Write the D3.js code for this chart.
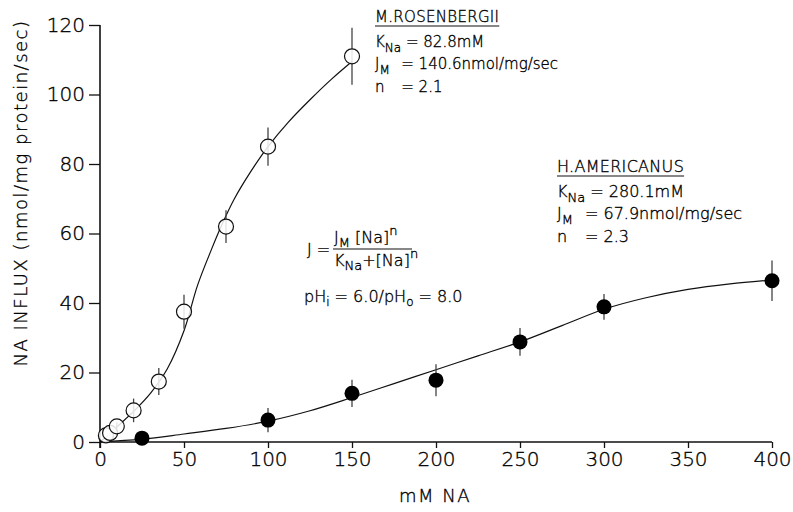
<!DOCTYPE html>
<html>
<head>
<meta charset="utf-8">
<script src="https://cdn.jsdelivr.net/npm/d3@7"></script>
<style>
  body { margin: 0; background: #fff; }
  text { font-family: "DejaVu Sans", "Liberation Sans", sans-serif; fill: #000; stroke: #000; stroke-width: 0.35px; }
</style>
</head>
<body>
<script>
var w = 793;
var h = 512;

// M. rosenbergii (open circles)
var mX   = [3.5, 6, 10, 20, 35, 50, 75, 100, 150];
var mY   = [1.9, 2.6, 4.5, 9.1, 17.4, 37.5, 62, 85, 111];
var mErr = [0, 0, 1.2, 3.4, 3.9, 4.9, 4.7, 5.5, 8.2];
// fitted line for M. rosenbergii
var mCurveX = [0, 5, 10, 20, 30, 40, 50, 58, 66, 73, 80, 90, 100, 112, 125, 138, 150];
var mCurveY = [0, 2, 4.3, 8.8, 14, 21, 32, 45, 55, 63, 70, 78, 85, 92, 98.5, 104.5, 109.5];

// H. americanus (filled circles)
var hX   = [25, 100, 150, 200, 250, 300, 400];
var hY   = [1.1, 6.3, 14, 17.8, 28.8, 38.9, 46.4];
var hErr = [0, 3.5, 3.9, 4.6, 4, 3.7, 5.8];
var hCurveX = [0, 25, 50, 75, 100, 125, 150, 175, 200, 225, 250, 275, 300, 325, 350, 375, 400];
var hCurveY = [0, 0.8, 2.3, 3.9, 6, 9, 12.8, 16.8, 20.8, 24.8, 28.8, 33.5, 38.2, 41.5, 43.9, 45.5, 46.6];

var xTicks = [0, 50, 100, 150, 200, 250, 300, 350, 400];
var yTicks = [0, 20, 40, 60, 80, 100, 120];

var xScale = d3.scaleLinear().domain([0, 400]).range([100, 772]);
var yScale = d3.scaleLinear().domain([0, 120]).range([442, 25]);

var svg = d3.select("body")
            .append("svg")
            .attr("width", w)
            .attr("height", h);

// axes
var xAxis = d3.axisBottom(xScale).tickValues(xTicks).tickSize(6).tickPadding(4).tickFormat(d3.format("d"));
var yAxis = d3.axisLeft(yScale).tickValues(yTicks).tickSize(11).tickPadding(4).tickFormat(d3.format("d"));

var gx = svg.append("g").attr("transform", "translate(0," + yScale(0) + ")").call(xAxis);
var gy = svg.append("g").attr("transform", "translate(" + xScale(0) + ",0)").call(yAxis);

[gx, gy].forEach(function(g) {
    g.select(".domain").remove();
    g.selectAll(".tick line").attr("stroke", "#111").attr("stroke-width", 1.3);
    g.selectAll(".tick text")
        .style("font-family", "'DejaVu Sans', sans-serif")
        .style("font-weight", 200)
        .style("font-size", "20px");
});
// plain axis lines
gx.append("line").attr("x1", xScale(0)).attr("x2", xScale(400)).attr("stroke", "#111").attr("stroke-width", 1.6);
gy.append("line").attr("y1", yScale(120)).attr("y2", yScale(0) + 6).attr("stroke", "#111").attr("stroke-width", 1.6);

// axis titles
svg.append("text")
   .attr("transform", "translate(27," + 193 + ") rotate(-90)")
   .attr("text-anchor", "middle")
   .style("font-size", "18px")
   .style("font-weight", 200)
   .style("letter-spacing", "1.5px")
   .text("NA INFLUX  (nmol/mg protein/sec)");

svg.append("text")
   .attr("x", 435).attr("y", 502)
   .attr("text-anchor", "middle")
   .style("font-size", "18px")
   .style("font-weight", 200)
   .style("letter-spacing", "1.5px")
   .text("mM  NA");

// fitted curves
var line = d3.line()
    .x(function(d) { return xScale(d[0]); })
    .y(function(d) { return yScale(d[1]); })
    .curve(d3.curveCatmullRom);

svg.append("path")
   .datum(d3.zip(mCurveX, mCurveY))
   .attr("d", line)
   .attr("fill", "none").attr("stroke", "#111").attr("stroke-width", 1.2);

svg.append("path")
   .datum(d3.zip(hCurveX, hCurveY))
   .attr("d", line)
   .attr("fill", "none").attr("stroke", "#111").attr("stroke-width", 1.2);

// error bars
function errBars(xs, ys, es) {
    svg.append("g").selectAll("line")
       .data(d3.range(xs.length).filter(function(i) { return es[i] > 0; }))
       .enter()
       .append("line")
       .attr("x1", function(i) { return xScale(xs[i]); })
       .attr("x2", function(i) { return xScale(xs[i]); })
       .attr("y1", function(i) { return yScale(ys[i] + es[i]); })
       .attr("y2", function(i) { return yScale(ys[i] - es[i]); })
       .attr("stroke", "#444")
       .attr("stroke-width", 1.3);
}
errBars(mX, mY, mErr);
errBars(hX, hY, hErr);

// markers
svg.append("g").selectAll("circle")
   .data(d3.zip(mX, mY))
   .enter()
   .append("circle")
   .attr("cx", function(d) { return xScale(d[0]); })
   .attr("cy", function(d) { return yScale(d[1]); })
   .attr("r", 7.5)
   .attr("fill", "#fff")
   .attr("fill-opacity", 0.85)
   .attr("stroke", "#111")
   .attr("stroke-width", 1.2);

svg.append("g").selectAll("circle")
   .data(d3.zip(hX, hY))
   .enter()
   .append("circle")
   .attr("cx", function(d) { return xScale(d[0]); })
   .attr("cy", function(d) { return yScale(d[1]); })
   .attr("r", 7.5)
   .attr("fill", "#000");

// parameter blocks
function paramBlock(x, y, fs, title, k, jm, n) {
    var sub = Math.round(fs * 0.8);
    var g = svg.append("g").attr("transform", "translate(" + x + "," + y + ")")
               .style("font-size", fs + "px").style("font-weight", 200);
    var t = g.append("text").attr("x", 0).attr("y", 0).style("letter-spacing", "0.3px").text(title);
    var tw = t.node().getComputedTextLength();
    g.append("line").attr("x1", 0).attr("x2", tw).attr("y1", 4).attr("y2", 4)
     .attr("stroke", "#111").attr("stroke-width", 1.2);

    var r1 = g.append("text").attr("y", 25);
    r1.append("tspan").text("K");
    r1.append("tspan").attr("dy", 5).style("font-size", sub + "px").text("Na");
    r1.append("tspan").attr("dy", -5).text(" = " + k);

    var r2 = g.append("text").attr("y", 47);
    r2.append("tspan").text("J");
    r2.append("tspan").attr("dy", 5).style("font-size", sub + "px").text("M");
    r2.append("tspan").attr("dy", -5).attr("x", fs * 1.75).text("= " + jm);

    var r3 = g.append("text").attr("y", 70);
    r3.append("tspan").text("n");
    r3.append("tspan").attr("x", fs * 1.75).text("= " + n);
}
paramBlock(375, 22, 15, "M.ROSENBERGII", "82.8mM", "140.6nmol/mg/sec", "2.1");
paramBlock(557, 172, 16, "H.AMERICANUS", "280.1mM", "67.9nmol/mg/sec", "2.3");

// equation
var eq = svg.append("g").style("font-size", "16px").style("font-weight", 200);
eq.append("text").attr("x", 307).attr("y", 255).text("J =");
var num = eq.append("text").attr("x", 334).attr("y", 243);
num.append("tspan").text("J");
num.append("tspan").attr("dy", 4).style("font-size", "13px").text("M");
num.append("tspan").attr("dy", -4).text(" [Na]");
num.append("tspan").attr("dy", -8).style("font-size", "13px").text("n");
eq.append("line").attr("x1", 333).attr("x2", 412).attr("y1", 249).attr("y2", 249)
  .attr("stroke", "#111").attr("stroke-width", 1.1);
var den = eq.append("text").attr("x", 334).attr("y", 266);
den.append("tspan").text("K");
den.append("tspan").attr("dy", 4).style("font-size", "13px").text("Na");
den.append("tspan").attr("dy", -4).text("+[Na]");
den.append("tspan").attr("dy", -8).style("font-size", "13px").text("n");

var ph = eq.append("text").attr("x", 304).attr("y", 302);
ph.append("tspan").text("pH");
ph.append("tspan").attr("dy", 4).style("font-size", "12px").text("i");
ph.append("tspan").attr("dy", -4).text(" = 6.0/pH");
ph.append("tspan").attr("dy", 4).style("font-size", "12px").text("o");
ph.append("tspan").attr("dy", -4).text(" = 8.0");
</script>
</body>
</html>
